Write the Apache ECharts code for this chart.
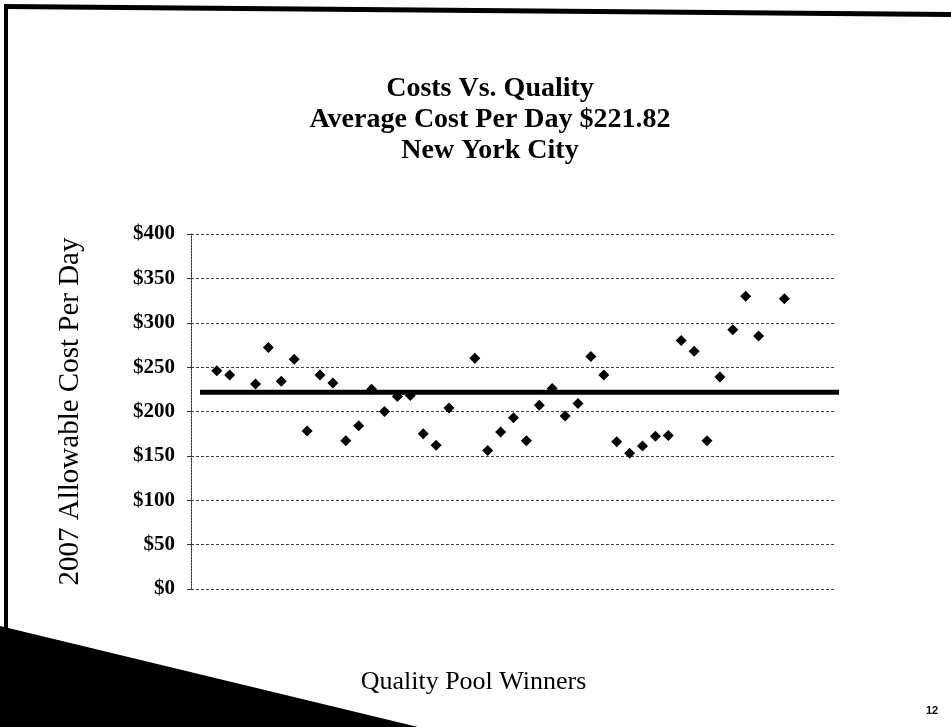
<!DOCTYPE html>
<html>
<head>
<meta charset="utf-8">
<script src="https://cdn.jsdelivr.net/npm/echarts@6/dist/echarts.min.js"></script>
<style>
html,body{margin:0;padding:0;background:#fff;}
#chart{width:951px;height:727px;}
</style>
</head>
<body>
<div id="chart"></div>
<script>
// Positions of the quality pool winners along the (unlabelled) x axis
const winnerPos = [2,3,5,6,7,8,9,10,11,12,13,14,15,16,17,18,19,20,22,23,24,25,26,27,28,29,30,31,32,33,34,35,36,37,38,39,40,41,42,43,44,46];
// 2007 allowable cost per day ($)
const costPerDay = [246,241,231,272,234,259,178,241,232,167,184,225,200,217,218,175,162,204,260,156,177,193,167,207,226,195,209,262,241,166,153,161,172,173,280,268,167,239,292,330,285,327];
const averageCost = 221.82;
const averageSpan = [0.7, 50.5];
const yTicks = [0, 50, 100, 150, 200, 250, 300, 350, 400];

const serif = '"Liberation Serif", "DejaVu Serif", serif';
const chart = echarts.init(document.getElementById('chart'));

const option = {
  backgroundColor: '#ffffff',
  animation: false,
  title: {
    text: 'Costs Vs. Quality\nAverage Cost Per Day $221.82\nNew York City',
    left: 485,
    top: 68,
    textAlign: 'center',
    textStyle: {fontFamily: serif, fontWeight: 'bold', fontSize: 28, lineHeight: 31, color: '#000'}
  },
  grid: {left: 191, right: 115, top: 234, bottom: 138},
  xAxis: {
    type: 'value', min: 0, max: 50,
    name: 'Quality Pool Winners', nameLocation: 'middle', nameGap: 80,
    nameTextStyle: {fontFamily: serif, fontSize: 26, color: '#000', padding: [0, 80, 0, 0]},
    axisLine: {show: false}, axisTick: {show: false}, axisLabel: {show: false}, splitLine: {show: false}
  },
  yAxis: {
    type: 'value', min: yTicks[0], max: yTicks[yTicks.length - 1], interval: 50,
    name: '2007 Allowable Cost Per Day', nameLocation: 'middle', nameGap: 106,
    nameTextStyle: {fontFamily: serif, fontSize: 29, color: '#000'},
    axisLine: {show: true, lineStyle: {color: '#333', type: [2, 1], width: 1}},
    axisTick: {show: true, length: 4, lineStyle: {color: '#333'}},
    axisLabel: {fontFamily: serif, fontWeight: 'bold', fontSize: 21, color: '#000', margin: 16,
      formatter: v => '$' + v},
    splitLine: {show: true, lineStyle: {color: '#444', type: [3, 2], width: 1}}
  },
  series: [
    {
      type: 'scatter',
      symbol: 'diamond',
      symbolSize: 11,
      itemStyle: {color: '#000', opacity: 1},
      data: winnerPos.map((x, i) => [x, costPerDay[i]]),
      z: 3
    },
    {
      type: 'line',
      clip: false,
      symbol: 'none',
      lineStyle: {color: '#000', width: 5},
      data: [
        [averageSpan[0], averageCost],
        {value: [averageSpan[1], averageCost], label: {
          show: true, position: 'right', offset: [6, -26],
          formatter: () => '$' + averageCost.toFixed(2),
          fontFamily: serif, fontSize: 25, color: '#000'
        }}
      ],
      z: 2
    }
  ],
  graphic: [
    {type: 'rect', shape: {x: 4, y: 4, width: 4, height: 723}, style: {fill: '#000'}, silent: true},
    {type: 'polygon', shape: {points: [[4, 4], [951, 12], [951, 17], [4, 9]]}, style: {fill: '#000'}, silent: true},
    {type: 'polygon', shape: {points: [[0, 626], [418, 727], [0, 727]]}, style: {fill: '#000'}, silent: true},
    {type: 'text', left: 926, top: 705, style: {text: '12', font: 'bold 11px "Liberation Sans", Arial, sans-serif', fill: '#000'}, silent: true}
  ]
};
chart.setOption(option);
</script>
</body>
</html>
